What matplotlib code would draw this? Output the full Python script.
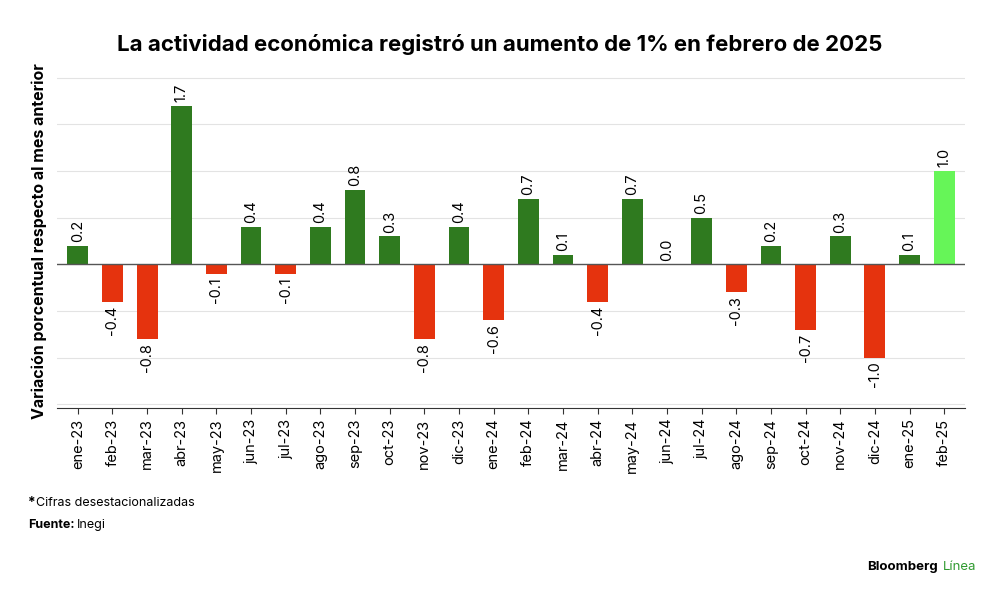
import matplotlib
matplotlib.use("Agg")
import matplotlib.pyplot as plt

months = ["ene-23","feb-23","mar-23","abr-23","may-23","jun-23","jul-23","ago-23","sep-23","oct-23","nov-23","dic-23",
          "ene-24","feb-24","mar-24","abr-24","may-24","jun-24","jul-24","ago-24","sep-24","oct-24","nov-24","dic-24",
          "ene-25","feb-25"]
values = [0.2,-0.4,-0.8,1.7,-0.1,0.4,-0.1,0.4,0.8,0.3,-0.8,0.4,-0.6,0.7,0.1,-0.4,0.7,0.0,0.5,-0.3,0.2,-0.7,0.3,-1.0,0.1,1.0]

plt.rcParams['font.family'] = ['Inter', 'DejaVu Sans']
fig = plt.figure(figsize=(10, 5.95), dpi=100)
ax = fig.add_axes([0.057, 0.314, 0.908, 0.56])
colors = []
for i, v in enumerate(values):
    if i == len(values) - 1:
        colors.append("#66f558")
    elif v >= 0:
        colors.append("#2f7a1f")
    else:
        colors.append("#e5330e")
x = range(len(values))
ax.bar(x, values, width=0.6, color=colors, zorder=3)
for i, v in enumerate(values):
    if v >= 0:
        ax.text(i, v + 0.04, f"{v:.1f}", rotation=90, ha="center", va="bottom", fontsize=10.5)
    else:
        ax.text(i, v - 0.04, f"{v:.1f}", rotation=90, ha="center", va="top", fontsize=10.5)
ax.set_xlim(-0.6, len(values) - 0.4)
ax.set_ylim(-1.54, 2.03)
ax.set_yticks([-1.5, -1.0, -0.5, 0.5, 1.0, 1.5, 2.0])
ax.yaxis.grid(True, color="#e3e3e3", lw=0.8, zorder=0)
ax.set_yticklabels([])
ax.tick_params(axis="y", length=0)
ax.axhline(0, color="#555555", lw=1, zorder=4)
ax.set_xticks(list(x))
ax.set_xticklabels(months, rotation=90, fontsize=10.5)
ax.tick_params(axis="x", length=4, color="#333333")
for s in ["top", "right", "left"]:
    ax.spines[s].set_visible(False)
ax.spines["bottom"].set_color("#333333")
ax.set_ylabel("Variación porcentual respecto al mes anterior", fontsize=11.5, fontweight="bold", labelpad=4)

fig.text(0.5, 0.925, "La actividad económica registró un aumento de 1% en febrero de 2025",
         ha="center", va="center", fontsize=16, fontweight="bold")
fig.text(0.028, 0.155, "*", fontsize=10, fontweight="bold", va="center")
fig.text(0.036, 0.155, "Cifras desestacionalizadas", fontsize=9, va="center")
fig.text(0.028, 0.118, "Fuente:", fontsize=9, fontweight="bold", va="center")
fig.text(0.077, 0.118, "Inegi", fontsize=9, va="center")
fig.text(0.938, 0.047, "Bloomberg", fontsize=9.5, fontweight="bold", va="center", ha="right")
fig.text(0.943, 0.047, "Línea", fontsize=9.5, color="#2f9a2f", va="center", ha="left")
fig.savefig("out.png", dpi=100, facecolor="white")
